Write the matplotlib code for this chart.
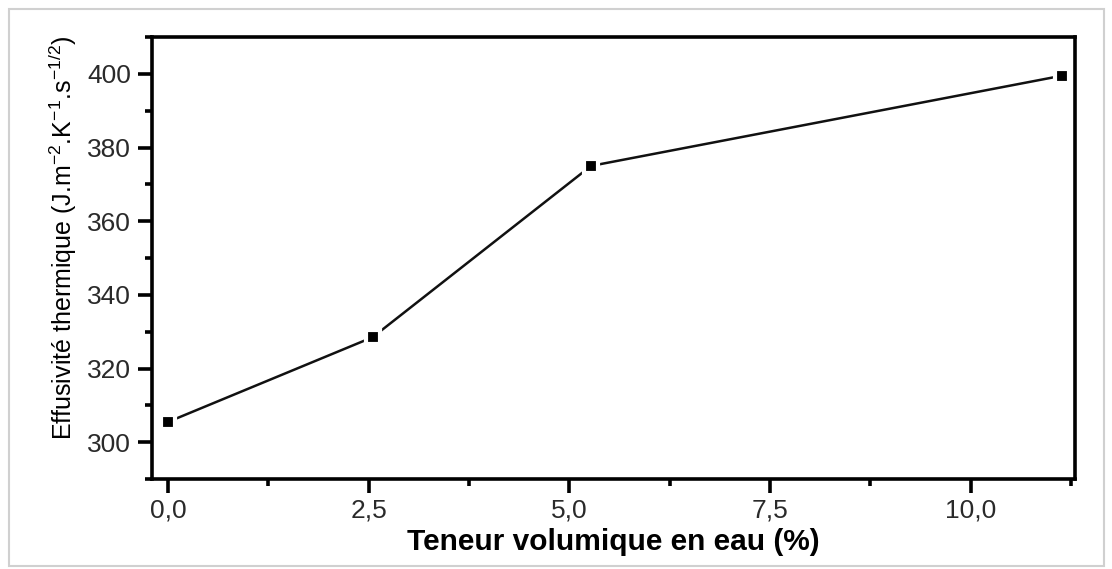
import matplotlib
matplotlib.use('Agg')
import matplotlib.pyplot as plt
from matplotlib.ticker import MultipleLocator, FuncFormatter
from matplotlib.patches import Rectangle

plt.rcParams['font.family'] = 'Liberation Sans'
plt.rcParams['mathtext.fontset'] = 'custom'
plt.rcParams['mathtext.rm'] = 'Liberation Sans'
plt.rcParams['mathtext.it'] = 'Liberation Sans'
plt.rcParams['mathtext.bf'] = 'Liberation Sans:bold'

# Water content (%) and thermal effusivity
teneur = [0.0, 2.55, 5.27, 11.14]
effusivite = [305.5, 328.5, 375.0, 399.5]

x_ticks = [0.0, 2.5, 5.0, 7.5, 10.0]
y_ticks = [300, 320, 340, 360, 380, 400]

fig = plt.figure(figsize=(11.12, 5.69), dpi=100)
ax = fig.add_axes([152 / 1112, 1 - 479 / 569, (1075 - 152) / 1112, (479 - 37) / 569])

# line first, then squares with a white rim so the line stops short of them
ax.plot(teneur, effusivite, color='#111111', lw=1.8, zorder=2)
ax.plot(teneur, effusivite, ls='none', marker='s', ms=10, mfc='black',
        mec='white', mew=3, zorder=3)

ax.set_xlim(-0.2, 11.3)
ax.set_ylim(290, 410)
ax.set_xticks(x_ticks)
ax.set_yticks(y_ticks)
ax.xaxis.set_minor_locator(MultipleLocator(1.25))
ax.yaxis.set_minor_locator(MultipleLocator(10))
ax.xaxis.set_major_formatter(FuncFormatter(lambda v, p: ('%.1f' % v).replace('.', ',')))

for s in ax.spines.values():
    s.set_linewidth(2.6)
ax.tick_params(which='both', direction='out', width=2.6, colors='black',
               labelcolor='#2a2a2a', labelsize=19)
ax.tick_params(which='major', length=10)
ax.tick_params(which='minor', length=5)
ax.tick_params(axis='x', pad=4)
ax.tick_params(axis='y', pad=5)

ax.set_xlabel('Teneur volumique en eau (%)', fontsize=21.5, fontweight='bold', labelpad=4)
ax.set_ylabel(r'Effusivité thermique (J.m$^{-2}$.K$^{-1}$.s$^{-1/2}$)', fontsize=18)
ax.yaxis.set_label_coords(-0.079, 0.545)

# light frame round the whole figure
fig.patches.append(Rectangle((9 / 1112, 3 / 569), 1095 / 1112, 557 / 569,
                             transform=fig.transFigure, fill=False,
                             edgecolor='#d0d0d0', lw=1.5))

fig.savefig('out.png', dpi=100)
